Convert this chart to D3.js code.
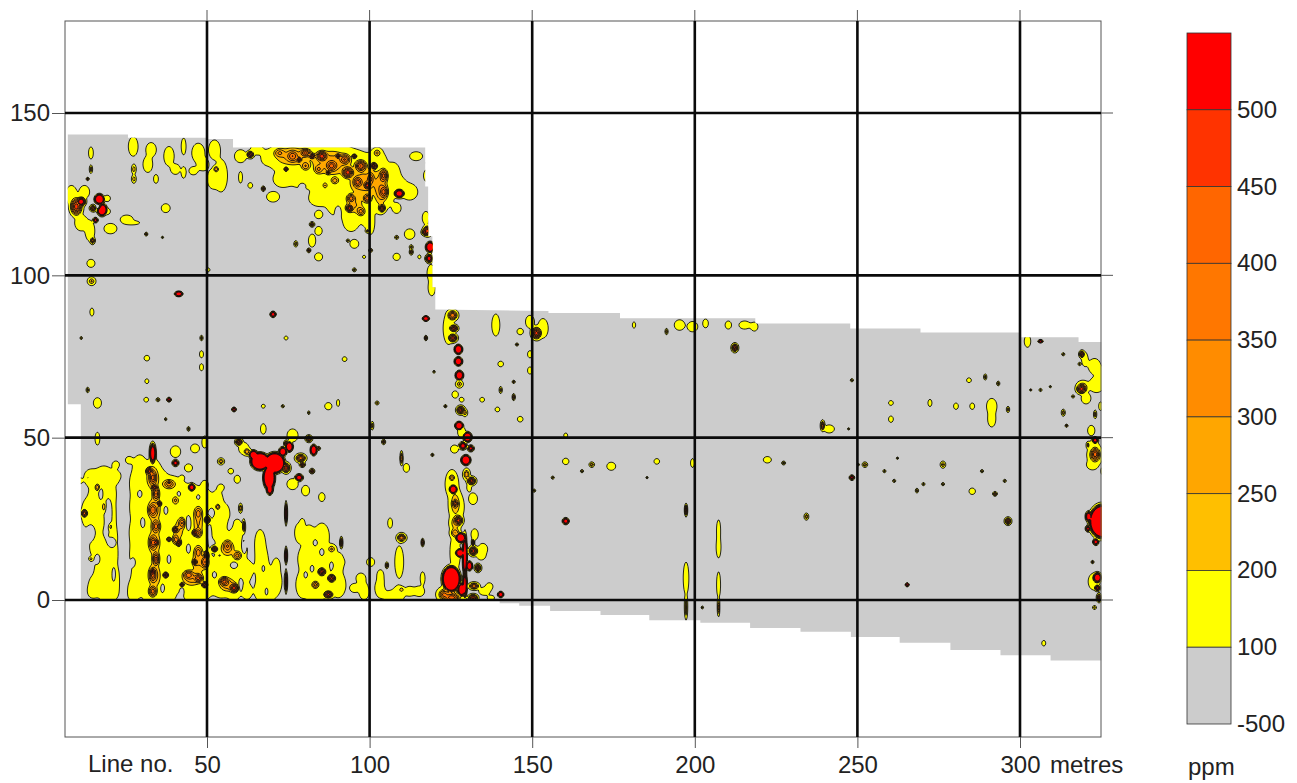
<!DOCTYPE html>
<html><head><meta charset="utf-8">
<script src="https://cdn.jsdelivr.net/npm/d3@7"></script>
<style>
html,body{margin:0;padding:0;background:#fff}
svg{display:block}
text{font-family:"Liberation Sans",Arial,sans-serif;font-size:24px;fill:#222}
</style></head><body><svg id="c" width="1297" height="783"></svg>
<script>
const xTicks=[50,100,150,200,250,300];
const yTicks=[0,50,100,150];
const levels=[100,200,250,300,350,400,450,500];
const levelColors=["#ffff00","#ffbf00","#ffa600","#ff8c00","#ff7700","#ff6600","#ff3300","#ff0000"];
const legendLabels=["500","450","400","350","300","250","200","100","-500"];
const legendColors=["#ff0000","#ff3300","#ff6600","#ff7700","#ff8c00","#ffa600","#ffbf00","#ffff00","#cccccc"];
const surveyOutline=[[7.2,143.4],[25.7,143.4],[25.7,142.4],[50,142.4],[50,142],[58,142],[58,139.4],[117.1,139.4],[117.1,127.4],[118,127.4],[118,112],[119.3,112],[119.3,96.3],[120.2,96.3],[120.2,89.5],[155,89],[155,88.4],[177,88.4],[177,86.8],[218.6,86.8],[218.6,85.2],[247.8,85.2],[247.8,83.6],[269.4,83.6],[269.4,82.4],[300,82.4],[300,80.9],[318,80.9],[318,79.5],[325,79.5],
[325,-18.6],[309.4,-18.6],[309.4,-17],[294,-17],[294,-15.4],[278.6,-15.4],[278.6,-13.2],[263,-13.2],[263,-11.4],[248,-11.4],[248,-9.8],[232.5,-9.8],[232.5,-8.6],[217,-8.6],[217,-7],[201.7,-7],[201.7,-6.2],[186,-6.2],[186,-4.6],[171,-4.6],[171,-3.4],[155.5,-3.4],[155.5,-1.8],[146,-1.8],[146,-1],[140,-1],[140,0],[11.2,0],[11.2,60.3],[7.2,60.3]];
// anomalies: [line no., metres, half-width, half-height, peak ppm]
const topLeftSpot=[[9.5,121.5,2.4,3.6,490],[11,123,1.3,1.8,700],[8,125,1.3,3,150],[12,126,1.6,2,140],[11,116.5,2,2.5,160],[13.7,114,1.1,3.2,160],[14.8,121,1,.9,490],[16.6,123.7,1.7,1.4,2200],[17.4,120.5,1.3,2.2,2200],[15.4,117.3,.6,.6,800],[20,114.7,1.5,1.6,150],[25,117.5,1.5,1,150],[27,116.5,1.5,.4,130],[14,104,.9,.9,130],[14.5,111,.6,.9,400],[14.2,98.5,1,1,260],[14.3,89,.4,.9,170],[13,130,.3,.3,500],[14,138,.5,1.4,130],[14,133,.3,1,300],[19,124,.7,.7,130],[19,120,.7,.7,130]];
const topStrip=[[27,140,1.1,3,140],[27.2,133,.5,1.2,250],[27.2,130,.5,1,250],[32.5,139,1.2,2.2,150],[31.5,134.5,1.1,2.5,150],[34,130,.5,1,140],[38,137,1.6,3,150],[40,133,1.1,1.6,150],[42.5,140,.5,2.6,130],[42.5,132,.5,1.8,160],[47,138,1.5,3,150],[45.5,132.5,1,.9,130],[48.5,134.5,1.3,1.5,150],[52,139,1.8,3,150],[54,131,2,5,150],[51.5,130,1.3,3,150],[52.5,133,.8,.9,300],[60,137,1.4,2,150],[65,139,2,1.2,150],[63,137.5,1,1,490],[68,136.5,1.2,2,150],[60,130.5,.4,1.8,150],[63,128,.5,.6,160],[67,127,.4,.6,500],[31,113,.3,.4,400],[37,121,1,1,130]];
const topBand=[[72,136,3.5,3,140],[78,136,3.5,3,140],[84,136,3.5,3,140],[90,135,3.5,3.5,140],[96,135,3.5,3.5,140],[102,135,3,4,140],[73,130,3,2.6,140],[79,130,3.5,3,140],[85,129,3.5,3.5,140],[91,128,3.5,4,140],[97,128,3.5,4,140],[103,128,3.5,4,140],[70,124.5,2,1.2,140],[84,124,3,2.4,140],[90,122,3.5,3.5,140],[96,121,2.2,3,140],[94,117,2.5,3.2,140],[99,119,2,4,140],[100,116,.8,3,140],
[107,132,1.5,3,140],[108,128,3,3,140],[112,126,2.5,2.5,140],[105,125,2,3.5,140],[108,121,1,1.2,140],[108.8,125.5,1.4,1.6,900],[114,137,1.5,1,150],[118,135,.6,.6,130],[117.5,131,.9,2,130]];
const topBandOrange=[[76,137,8,4.5,270],[88,135,9,6,280],[98,129,7,7,280],[103,127,3,8,290],[95,122,4,4,250],
[72,138,2.5,2,300],[76,137,2.5,2.5,380],[80,138,2.5,1.8,420],[80,134,2,2,300],[85,137,2.5,2.2,490],[88,134,2.5,2.4,420],[84,133,2,2,300],[92,136,2.5,2.2,400],[93,132,2.5,2.4,490],[97,134,2.5,2.5,450],[96,129,2,2.5,420],[89,129.5,1.8,1.6,280],[100,130,1.6,3,350],[104,131,1.4,3,420],[104,126,1.4,3,420],[99,124,1.5,2,380],[94,124,1.5,2,380],[97,120,1.4,2,320],[102,138,1.2,1.2,260],[86,128,.8,1,250],
[103.5,121,1,1.2,490],[93.5,121,1.2,1.2,490],[101,134,1,1,490],[82,137,1,.8,490],[78,136,.8,.8,490],[99,128,1.1,1.3,490],[90,137,.8,.7,490],[74,133,.6,.6,490],[87,132,.6,.6,490],[95,137,.7,.6,490]];
const topBandScatter=[[82,116,.6,.6,400],[84,119,.9,.9,140],[82,111,.8,1.5,150],[77,110,.4,.7,300],[81,108,.4,.5,500],[84,114,.8,1,150],[84,106,.9,.9,130],[95,110,1,1,130],[95,102,.4,.4,300],[100,108,.4,.4,400],[108,106,.8,.8,130],[112,113,1.2,1.2,130],[112.5,107.5,.4,.7,400],[108,112,.4,.4,300],[117,118,.8,2,150],[116.7,113.6,.9,.9,490],[115,106,.3,.4,200],[98,106,.3,.3,200],[93,111,.3,.3,300],[112.5,109,.4,.5,300],[99,114,.4,.4,300],[120,117,.4,1.2,200]];
const seam=[[117.5,114,1.3,2,490],[118.3,109,1.1,1.4,2000],[118,105.5,1,1.6,700],[118.6,101,.9,2.6,150],[118.8,96.5,.8,2.5,150],[119,113.8,.3,.4,1000]];
const blLeft=[[14,38,2.2,2.6,140],[18,39,2.6,2.6,140],[22,38,2,2.2,140],[16,33,2.5,3.5,140],[20,33,2,3,140],[13,27,2,4.5,140],[16,25,2.2,4,140],[20.5,27,1.6,5.5,140],[21,19,1.6,5,140],[16,17,2.5,4,140],[20,14,2.2,3,140],[18,8,3,6,140],[21.5,6,1.7,5,140],[14.5,4,1.5,3,130],[19,2.5,2,3,140],
[16,35,.8,1.6,300],[12,27,.9,1.6,460],[18,29,.6,2,260],[20,23,.5,1.2,300],[14,13,.5,.5,250],[13,38,.4,.4,200],[25.7,43.4,.8,.8,130],[21.7,42,.8,.8,130],[16,50,.5,1.5,130],[10.5,37,.6,.6,130]];
const blMain=[[29,42,1.5,3,140],[27.5,36,1.6,4,140],[30,37,2.5,4,140],[35,37,3,3.5,140],[40,35,3,3,140],[45,33,3,3,140],[49,31,2.5,3.5,140],[27.5,29,1.6,4,140],[31,30,3,4,140],[36,30,3,4,140],[41,28,3,4,140],[46,27,3,4,140],[27.5,21,1.8,4.5,140],[32,22,3,4,140],[37,22,3,4,140],[42,21,3,4,140],[47,20,3,4,140],[28,14,2.2,4,140],[33,14,3,4,140],[38,15,3,4,140],[43,13,3,4,140],[48,13,3,4,140],[29,7,2.6,4,140],[34,7,3,4,140],[39,7,3,4,140],[44,6,3,4,140],[49,6,3,5,140],[27,3,2,3,140],[33,2,3,3,140],[38,2,2,2.5,140],[46,2,3,3,140],
[33,38,3,6,270],[33.5,28,3,6,270],[33.5,18,3,6,270],[33.5,8,3,6,270],[47,24,2.4,6,250],[47,12,3,6,250],[45,7,4.5,3.4,280],[41,22,2.2,5,240],[38,36,3.4,2.4,250],
[33,38,1.6,3,420],[34,33,1.6,3,400],[33,28,1.5,3,380],[34,23,1.5,3,380],[33,18,1.6,3,420],[34,13,1.6,3,420],[33,8,1.6,3,420],[33,3,1.4,2.5,380],[38,36,2,1.2,300],[40,31,1.2,2,260],[42,24,1.2,2.5,350],[40,19,1.1,2.4,320],[47,27,1.4,3,320],[47,21,1.2,2,350],[47,15,1.4,3,320],[44,8,2.4,2,380],[47,7,2,2,420],[49,12,1.4,3,400],
[32,40,1.1,1.2,490],[33.5,35,.9,1,490],[34,18,.8,1,490],[33,9,.9,1,490],[37,8,.8,.9,490],[40,22,.9,1,490],[41,18,.8,1.2,490],[38,19,.7,.7,400],[46,21,.9,1,490],[46,12,.8,1,490],[49,5,.9,.9,490],[49.5,14,.8,2,490],[45,35,.9,1,900],[42,38,.5,.5,150],[49,36,.7,.8,130],[49.8,25,.9,1.6,490],[38,36.5,.4,.5,400],[33,45.5,.8,3.8,1000],[40,42.5,.8,.8,800],[40,46,1.6,1.8,150],[46,47,1,1,130],[44,41,.9,.9,130],[49,49,.6,1.4,130],[35,30,.7,.8,490],[42,5,.6,.6,490]];
const blRight=[[53,31,1.6,3.2,140],[55,27,1.7,3,140],[53,23,2.4,4,140],[59,22,1.7,3.2,140],[56,17,3,4,140],[60,16,2.2,3.5,140],[55,11,3,3.5,140],[59,10,2.5,3.5,140],[62,10,1.4,2.4,140],[54,5,2.6,4,140],[58,4,2.2,4,140],[62,3,1.6,2.5,140],
[56,16,3.4,3.4,260],[56,5,3.8,3.2,280],[56,17,2,2.5,340],[59,14,2,2,320],[55,6,2.2,2,420],[58,4,1.5,1.5,490],[53,29,.7,.9,300],[52,16,.9,.9,490],[60,22,.6,.6,130],[53.5,14,.7,.5,200],[62,8,.8,1.4,130],[59,37.5,.7,.9,130],[54,43,.8,.8,300],[54,35,.7,.7,130],[57,40,.6,.6,130],[60,28.6,.4,1.6,300],[61,23,.3,2.4,400],[61,18,.3,.8,300],
[66,18,1.6,4,140],[66.5,13,1.9,4,140],[67,8,2.2,4,140],[69,4,2,4,140],[66,3,1.7,3,140],[71,6,1.3,4,140],[71,11,.8,2.2,130],[78,21,1,3,140],[79,24,.5,1,140],
[74,27,.25,4,600],[74,14,.25,3,600],[74,6,.25,4,600],[81,20,1.8,3.4,140],[85,20,2.3,4,140],[80,13,2.4,4,140],[85,13,3,4,140],[90,12,1.4,3,140],[79,5,2,4,140],[84,6,3,4,140],[90,5,2.4,4,140],[83,2,2.5,3,140],[88,16,1.2,1.2,260],[85,9,1.2,1.2,490],[88,7,1.2,1.2,490],[83,5,1.2,1.2,320],[87,2,1.4,1.1,490],[91,18,.3,2,500],[91,12,.5,.5,130],[95,4,1,1,140],[97,7,1.1,1.6,140],[100,12,.9,1,140],[98,3,1.6,2.6,140],[103,4,1.7,3,140],[103,8,.7,1.2,130],[105,11,.3,.8,400],[109.5,19.5,1.3,1.2,400],[108.8,12,1,5,130],[108.5,2,1.4,2.6,140],[106,1.5,2,1.6,140],[109.5,3.5,.7,.7,250],[112,3,1.1,1.1,130],[116,7,.5,2,150],[115,3,1.2,1.2,130],[116,18,.3,1,500]];
const heart=[[66,43,3.2,3,6000],[70.5,42.5,3.5,3.6,6000],[68.8,38,2,4.2,4000],[69,34.5,.8,2,1500],[64,45,1.6,1.2,1500],[73,46,1,1.2,1500],[61,47,1.6,1.4,150],[59.5,49,1,1,490],[62,46,1,1,300],[67,53,.6,1.2,130],[75,47.5,.9,1.3,2000],[78.5,44,1.5,1.2,450],[76,51,1.7,1.5,140],[81,50,.9,.9,490],[82.5,46.5,.8,1.4,1800],[78,38,1,.9,1000],[74,41,1.2,1.5,490],[76,36,1.3,1.7,150],[80,34,.9,1.2,150],[85,32,.7,1,130],[79,42,.7,.6,490],[82,40,.6,.6,490],[84,47,.4,.4,400],[74,48.5,.5,.8,490]];
const column=[[124,84,1.7,5,170],[125.2,88,1.5,2,400],[125.6,84,1.2,1,490],[125.3,81,1.3,1.2,490],[127,77.5,1,1.2,2200],[127,73.8,1,1.1,1800],[127.3,69.5,1,1.2,2000],[127.3,66.8,.9,.9,260],[126,63.6,.7,.8,130],[128,62,.5,.5,130],[127.7,58.8,1.2,1.2,490],[129,58,.6,.9,260],[127.2,54,1,1,2200],[129.8,50.5,1.1,1.3,2000],[128,52,.9,1.3,150],[128.4,47.8,1,1,800],[130.8,47,.8,.8,700],[125.8,46.8,.9,.9,130],[129.3,43.4,1.2,1.3,2400],[129.5,39,.9,2,300],[131,37,1.3,1.6,490],[131.5,31.5,1,1.8,150],[130.3,35,.5,1,150],[125,36,2.1,4.5,170],[125.4,34.4,1,1.1,1600],[125,38,.9,.9,300],[126.5,29,2.3,4.5,170],[126,30,2,5,250],[126,24,2,3,250],[124,2,4,3,300],[126,30,1,1.6,420],[127,24.8,1.8,2,490],[127.7,19.5,1.3,1.8,1500],[126,21,1.4,2,300],[126,15,1.6,6,170],[127.5,14.8,1.1,1.1,1800],[124.8,6.8,3.2,4.6,4000],[122.5,2,2,2,350],[125,1,3.5,2,430],[128,3.5,1,2.4,1400],[129,14,.5,8,1200],[129,5,.5,5,900],[130.4,10.8,.7,1.6,2000],[131.6,15.4,1.3,1.4,490],[133,10.2,.9,1.1,490],[134,14,1,1,150],[132,20.5,.8,1.3,150],[131.5,18,.3,1,500],[131.8,4.6,1.5,1,400],[131.5,1,1.4,1,490],[135,3,1.3,.9,150],[136.5,4.5,.8,.8,130],[140,2,.7,.7,1400],[137,1,.8,.5,130]];
const neighbours=[[87,60,.8,.8,130],[100.5,54,.3,1,300],[104,49,.4,.6,400],[102,61,.4,.4,300],[109.5,44,.3,2.4,400],[106,24,.5,1.6,140],[111,41,.7,1,130],[119,45,.3,.3,400],[134.5,16,1.1,1.3,140],[117,87,.8,.6,1500],[117,81,.3,.6,500],[138.5,85,.9,3.4,140],[151,82.5,1.5,2.4,490],[149,86,1,1.5,150],[153,84,1.2,3,140],[146,83,.7,.7,130],[149,76,.5,.8,130],[149,71,.5,.8,130],[140,73,.6,.6,150],[134.3,62,.5,.5,130],[139,59,.5,.5,130],[146,56,.6,.6,170],[140,65,.3,.8,300],[144,62.8,.3,.8,400],[144,67.5,.3,.3,400],[145,79,.3,.3,400],[119.5,70.6,.2,.3,300],[123,60,.3,.3,400]];
const middleField=[[160,51,.4,.5,130],[160,43,.7,.7,140],[168,42,.6,.6,300],[174,41.5,1,.9,150],[160,24.6,.8,.8,1000],[156,38,.3,.3,300],[165,40,.3,.3,300],[150.3,34,.3,.3,300],[188,43,.6,.6,130],[199,42.5,.4,1,150],[197,28,.3,2.2,500],[207,22,.4,3,130],[207,16.5,.5,3.2,130],[197,7,.6,5,130],[197,-2,.3,4,300],[207,5,.4,4,130],[207,-2,.2,3,400],[202,-2,.2,.3,300],[195,85,1.2,1.2,150],[199,84.5,1.2,1.6,140],[203,85.5,.6,1,130],[210,85,.7,.9,130],[212,78,.9,1.2,490],[215,85,1.3,.9,140],[218,84.5,.8,1,130],[181,85,.3,.7,200],[191,83,.3,.7,300],[185,38,.2,.2,300],[222,43.5,.9,.7,130],[227,42.5,.4,.4,300],[234,26,.5,.8,300],[239,54,.5,1.4,400],[241,53,1.2,.9,150],[248,38,.6,.6,700],[252,42,.6,.6,300],[258,40,.3,.3,300],[265,5,.4,.4,900],[260,61,.5,.5,130],[260,56,.5,.7,150],[276,42,.6,.8,270],[268,34,.3,.5,300],[261,37,.3,.3,300],[270,36,.3,.3,300],[276,36,.3,.3,300],[285,33.8,.7,.7,130],[291,60,1.6,2.4,140],[291,56,.9,2.4,140],[285,60,.5,.7,150],[280,60,.5,.7,130],[272,61,.4,.8,130],[284,68,.5,.5,130],[289,69,.3,.7,300],[293,67,.3,.5,300],[296,24.6,.9,1,490],[296,59,.3,.7,300],[248,68,.3,.3,300],[247,53,.2,.2,300],[295,37,.3,.3,300],[292,33,.5,.5,400],[288,40,.3,.3,300],[307,-13,.4,.6,130],[302,80,.7,1.4,150],[306,80,.6,.3,900],[313,58,.4,.8,300],[303,65,.2,.2,400],[314,54,.3,.3,400],[313,76,.3,.3,300],[309,66,.2,.2,300],[306,65,.3,.3,300],[262,44,.2,.2,300],[250,42,.2,.2,300]];
const rightEdge=[[319.6,74.5,.7,2.2,130],[318.7,76,.7,1,490],[322.6,72.3,1.9,2.4,150],[324.5,70,1,2,140],[323.2,66.6,2.4,2.4,150],[320,62.4,1.1,1.7,150],[318.6,65.3,1.5,1.4,490],[319,66,2.2,2,260],[324.5,60,.4,1,140],[322.8,57.5,.3,1,300],[321.6,52.5,.8,1.6,150],[322.8,49.5,.8,.8,800],[322.8,45,2.6,3.2,300],[322.8,45.2,1.8,2.6,420],[322,48,1.4,1,150],[322,42,1.4,1.2,150],[320.6,48,.3,.8,300],[325,24.5,4.6,6,5000],[320.8,26,.8,1.4,1000],[320.6,22.3,.6,.8,700],[323,18.2,.7,.8,900],[323.5,7.2,1.2,1.4,1000],[322.4,6,1.3,2.6,170],[323.5,4,.8,.8,600],[324,1,.6,1.6,490],[322.6,-2,.4,.4,250],[325,40,.3,.8,200],[322,12,.3,.3,400],[318,73,.3,.3,300],[316,63,.3,.3,300]];
const looseSpots=[[41,94.6,1,.6,1500],[70,88.3,.7,.7,1000],[31.2,74.8,.6,.6,130],[31.2,67.7,.4,.5,170],[48,81,.3,.6,300],[48,76,.4,.8,130],[48,72,.4,.8,130],[31,62,.5,.5,170],[34.6,62,.4,.4,300],[38,62,.5,.5,800],[16,61,.9,1.2,130],[58,59,.5,.5,800],[67,60,.4,.4,130],[74,81,.4,.4,130],[92,74.5,.5,.5,130],[50,102,.4,.4,130],[13,65,.3,.6,300],[11,81,.2,.3,300],[37,56,.2,.3,300],[36,112,.2,.2,300],[44,53,.3,.5,300],[90,61,.3,.8,130],[73,60,.3,.3,300],[81,58,.2,.4,300]];
// low patches inside the anomalies: [line no., metres, half-width, half-height, share removed]
const lowPatches=[[23.5,28,1.2,8,1],[24,14,1,6,1],[24,5,.8,4,1],[19.5,27,.9,4,1],[20.5,18,1,1.4,1],[14,21,1,2,.9],[17,33,.6,1.5,.8],[16,13,.6,1.2,.9],[21,8,.5,2,.8],[12,10,1,5,1],[27,12,.6,1.2,.8],[30,24,.5,1.2,.8],[29,33,.6,1,.8],[37,28,.6,1.2,.7],[38,13,.5,1.2,.8],[41,33,.5,.8,.7],[44,24,.7,2,1],[44,16,.5,1.2,.9],[36,4,.5,1.2,.9],[42,3,.5,1,.9],[50.5,21,.5,2,.6],[58,11,1,.9,1],[52,8,.5,.8,.8],[60,5,.5,1.5,1],[61,17,.6,2,1],[57,24,.5,1,.8],[47,32,.5,.7,.8],[51,27,.6,1,.7],[67,10,.4,1,.8],[68,3,.4,1,.8],[85,15,.6,1,.8],[82,10,.4,.8,.8],[80,8,.4,.8,.8],[88,11,.4,.8,.8],[83,18,.5,.7,.8],[100,5,.4,1,.9],[105,5,.5,1,.9],[90,120,.8,1.5,1],[79,128,1,.8,.5],[16.2,121.5,1,1,1]];
const groups=[topLeftSpot,topStrip,topBand,topBandOrange,topBandScatter,seam,blLeft,blMain,blRight,heart,column,neighbours,middleField,rightEdge,looseSpots];

const x=d3.scaleLinear().domain([50,300]).range([207,1020]);
const y=d3.scaleLinear().domain([0,150]).range([600,113]);
const frame={l:65,r:1101,t:21,b:737};
const svg=d3.select("#c");
svg.append("defs").append("clipPath").attr("id","survey").append("path")
  .attr("d",d3.line().x(d=>x(d[0])).y(d=>y(d[1])).curve(d3.curveLinearClosed)(surveyOutline));
svg.append("defs").append("filter").attr("id","soft").append("feGaussianBlur").attr("stdDeviation",0.55);

const map=svg.append("g").attr("filter","url(#soft)");
map.append("path").attr("fill","#cccccc")
  .attr("d",d3.line().x(d=>x(d[0])).y(d=>y(d[1])).curve(d3.curveLinearClosed)(surveyOutline));

const gw=frame.r-frame.l+20,gh=frame.b-frame.t;
const field=new Float64Array(gw*gh);
const P=4;
const grow=r=>r<1.6?r*1.25+.12:r;
groups.forEach(list=>list.forEach(([cx,cy,rx,ry,peak])=>{
  const px=x(cx)-frame.l,py=y(cy)-frame.t;
  const prx=Math.abs(x(cx+grow(rx))-x(cx)),pry=Math.abs(y(cy+grow(ry))-y(cy));
  const k=Math.log(peak/100);
  const reach=Math.sqrt(1+Math.log(200)/k)*1.05;
  const x0=Math.max(0,Math.floor(px-reach*prx)),x1=Math.min(gw-1,Math.ceil(px+reach*prx));
  const y0=Math.max(0,Math.floor(py-reach*pry)),y1=Math.min(gh-1,Math.ceil(py+reach*pry));
  for(let j=y0;j<=y1;j++)for(let i=x0;i<=x1;i++){
    const dx=(i-px)/prx,dy=(j-py)/pry;
    const v=peak*Math.exp(-k*(dx*dx+dy*dy));
    field[j*gw+i]+=Math.pow(v,P);
  }
}));
for(let n=0;n<field.length;n++)field[n]=Math.pow(field[n],1/P);
lowPatches.forEach(([cx,cy,rx,ry,share])=>{
  const px=x(cx)-frame.l,py=y(cy)-frame.t;
  const prx=Math.abs(x(cx+rx)-x(cx)),pry=Math.abs(y(cy+ry)-y(cy));
  const x0=Math.max(0,Math.floor(px-2.5*prx)),x1=Math.min(gw-1,Math.ceil(px+2.5*prx));
  const y0=Math.max(0,Math.floor(py-2.5*pry)),y1=Math.min(gh-1,Math.ceil(py+2.5*pry));
  for(let j=y0;j<=y1;j++)for(let i=x0;i<=x1;i++){
    const dx=(i-px)/prx,dy=(j-py)/pry;
    field[j*gw+i]*=1-share*Math.exp(-(dx*dx+dy*dy));
  }
});
const cs=d3.contours().size([gw,gh]).smooth(true).thresholds(levels)(field);
const gp=d3.geoPath(d3.geoIdentity().translate([frame.l+.5,frame.t+.5]));
const color=d3.scaleOrdinal().domain(levels).range(levelColors);
map.append("g").attr("clip-path","url(#survey)").selectAll("path").data(cs).join("path")
  .attr("d",gp).attr("fill",d=>color(d.value))
  .attr("stroke","#111").attr("stroke-width",0.9).attr("stroke-linejoin","round");

svg.append("rect").attr("x",frame.l).attr("y",frame.t).attr("width",frame.r-frame.l).attr("height",frame.b-frame.t)
  .attr("fill","none").attr("stroke","#555").attr("stroke-width",1);

const xAxis=d3.axisBottom(x).tickValues(xTicks).tickSize(11).tickPadding(8);
const gx=svg.append("g").attr("transform",`translate(0,${frame.b})`).call(xAxis);
gx.select(".domain").remove();
gx.selectAll("line").attr("stroke","#555").attr("stroke-width",1);
gx.selectAll("text").style("font-size","24px").style("font-family",'"Liberation Sans"').attr("fill","#222");
const yAxis=d3.axisLeft(y).tickValues(yTicks).tickSize(13).tickPadding(2);
const gy=svg.append("g").attr("transform",`translate(${frame.l},0)`).call(yAxis);
gy.select(".domain").remove();
gy.selectAll("line").attr("stroke","#555").attr("stroke-width",1);
gy.selectAll("text").style("font-size","24px").style("font-family",'"Liberation Sans"').attr("fill","#222");

svg.append("g").selectAll("line").data(xTicks).join("line")
  .attr("x1",d=>x(d)).attr("x2",d=>x(d)).attr("y1",frame.t).attr("y2",frame.b)
  .attr("stroke","#0a0a0a").attr("stroke-width",2.6);
svg.append("g").selectAll("line").data(xTicks).join("line")
  .attr("x1",d=>x(d)).attr("x2",d=>x(d)).attr("y1",10).attr("y2",frame.t)
  .attr("stroke","#555");
svg.append("g").selectAll("line").data(yTicks).join("line")
  .attr("x1",frame.l).attr("x2",frame.r).attr("y1",d=>y(d)).attr("y2",d=>y(d))
  .attr("stroke","#0a0a0a").attr("stroke-width",2.6);
svg.append("g").selectAll("line").data(yTicks).join("line")
  .attr("x1",frame.r).attr("x2",1113).attr("y1",d=>y(d)).attr("y2",d=>y(d))
  .attr("stroke","#555");

svg.append("text").attr("x",88).attr("y",772).text("Line no.");
svg.append("text").attr("x",1050).attr("y",773).text("metres");

const lg=d3.scaleLinear().domain([0,legendColors.length]).range([33,724]);
const legend=svg.append("g");
legend.selectAll("rect").data(legendColors).join("rect")
  .attr("x",1187).attr("width",44).attr("y",(d,i)=>lg(i)).attr("height",(d,i)=>lg(i+1)-lg(i))
  .attr("fill",d=>d).attr("stroke","#333").attr("stroke-width",0.8);
legend.selectAll("text").data(legendLabels).join("text")
  .attr("x",1237).attr("y",(d,i)=>lg(i+1)+8).text(d=>d);
svg.append("text").attr("x",1188).attr("y",775).text("ppm");
</script></body></html>
